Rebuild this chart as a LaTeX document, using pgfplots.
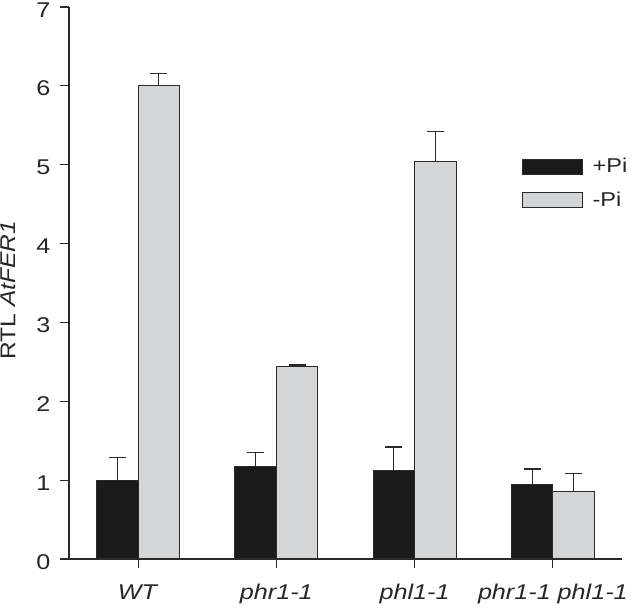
\documentclass[border=0pt]{standalone}
\usepackage{pgfplots}
\pgfplotsset{compat=1.18}
\usepackage{fontspec}
\setmainfont{Liberation Sans}
\newfontfamily\tickfont[FakeStretch=1.18]{Liberation Sans}
\newfontfamily\labfont[FakeStretch=1.15]{Liberation Sans}
\definecolor{barblack}{HTML}{1A1A1A}
\definecolor{bargray}{HTML}{D4D5D7}
\definecolor{edge}{HTML}{2A2A2A}
\begin{document}
\begin{tikzpicture}
\path[use as bounding box] (-51.75pt,-37.5pt) rectangle (423pt,419.25pt);
\begin{axis}[
  at={(0,0)}, anchor=south west,
  scale only axis,
  width=414.75pt, height=414pt,
  xmin=0.5, xmax=4.5, ymin=0, ymax=7,
  axis x line*=bottom, axis y line*=left,
  axis line style={line width=0.9pt, color=edge},
  xtick={1,2,3,4},
  xticklabels={\textit{WT},\textit{phr1-1},\textit{phl1-1},\textit{phr1-1 phl1-1}},
  ytick={0,1,2,3,4,5,6,7},
  tick align=outside,
  major tick length=6.5pt,
  tick style={line width=0.9pt, color=edge},
  /pgf/number format/assume math mode=true,
  ticklabel style={font=\tickfont\fontsize{16}{18}\selectfont, color=black!85},
  yticklabel style={xshift=-4pt, yshift=-2pt},
  xticklabel style={yshift=-9pt},
  ylabel={RTL \textit{AtFER1}},
  ylabel style={font=\labfont\fontsize{16}{18}\selectfont, color=black!85,
    at={(axis description cs:-0.11,0.487)}, anchor=center},
  ybar, bar width=0.3,
  legend style={draw=none, fill=none, at={(0.812,0.736)}, anchor=north west,
    font=\tickfont\fontsize{15}{17}\selectfont, row sep=9pt, text=black!85,
    /tikz/every odd column/.append style={column sep=5pt}},
  legend image code/.code={\draw[#1] (0pt,-5.6pt) rectangle (45pt,5.6pt);},
  legend cell align=left,
]
\addplot+[bar shift=-0.15, fill=barblack, draw=edge, line width=0.75pt,
  error bars/.cd, y dir=plus, y explicit,
  error bar style={line width=0.9pt, color=edge},
  error mark options={rotate=90, mark size=6.4pt, line width=0.9pt, color=edge}]
  coordinates {(1,1.00) +- (0,0.29) (2,1.17) +- (0,0.18) (3,1.12) +- (0,0.30) (4,0.95) +- (0,0.19)};
\addplot+[bar shift=0.15, fill=bargray, draw=edge, line width=0.75pt,
  error bars/.cd, y dir=plus, y explicit,
  error bar style={line width=0.9pt, color=edge},
  error mark options={rotate=90, mark size=6.4pt, line width=0.9pt, color=edge}]
  coordinates {(1,6.00) +- (0,0.16) (2,2.44) +- (0,0.02) (3,5.04) +- (0,0.38) (4,0.86) +- (0,0.22)};
\legend{+Pi,-Pi}
\end{axis}
\end{tikzpicture}
\end{document}
